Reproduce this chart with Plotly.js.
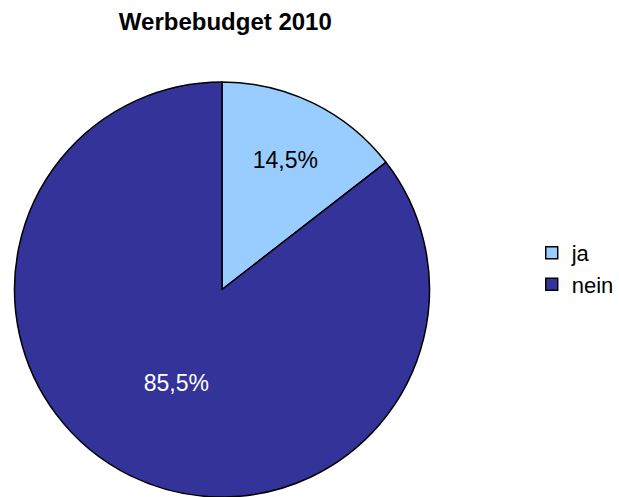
<!DOCTYPE html>
<html>
<head>
<meta charset="utf-8">
<script src="https://cdn.plot.ly/plotly-3.0.1.min.js"></script>
<style>html,body{margin:0;padding:0;background:#fff;}#chart{width:619px;height:497px;}</style>
</head>
<body>
<div id="chart"></div>
<script>
const chartTitle = "Werbebudget 2010";
const categories = ["ja", "nein"];
const shares = [14.5, 85.5];
const sliceColors = ["#99CCFF", "#333399"];
const labelColors = ["#000000", "#ffffff"];

const trace = {
  type: "pie",
  labels: categories,
  values: shares,
  sort: false,
  direction: "clockwise",
  rotation: 0,
  marker: { colors: sliceColors, line: { color: "#000000", width: 1.5 } },
  texttemplate: "%{percent:.1%}",
  textposition: "inside",
  insidetextorientation: "horizontal",
  insidetextfont: { family: "Liberation Sans, Arial, sans-serif", size: 23, color: labelColors },
  hoverinfo: "label+percent",
  domain: { x: [0.0226, 0.6947], y: [0, 0.835] }
};

const layout = {
  width: 619,
  height: 497,
  margin: { l: 0, r: 0, t: 0, b: 0 },
  paper_bgcolor: "#ffffff",
  separators: ",.",
  font: { family: "Liberation Sans, Arial, sans-serif", color: "#000000" },
  title: {
    text: "<b>" + chartTitle + "</b>",
    font: { family: "Liberation Sans, Arial, sans-serif", size: 24, color: "#000000" },
    x: 0.364, xanchor: "center", xref: "paper",
    y: 0.956, yanchor: "middle", yref: "container"
  },
  showlegend: true,
  legend: {
    x: 0.859, xanchor: "left",
    y: 0.459, yanchor: "middle",
    font: { size: 22, color: "#000000" },
    bgcolor: "rgba(0,0,0,0)"
  }
};

Plotly.newPlot("chart", [trace], layout, { displayModeBar: false, staticPlot: true });
</script>
</body>
</html>
